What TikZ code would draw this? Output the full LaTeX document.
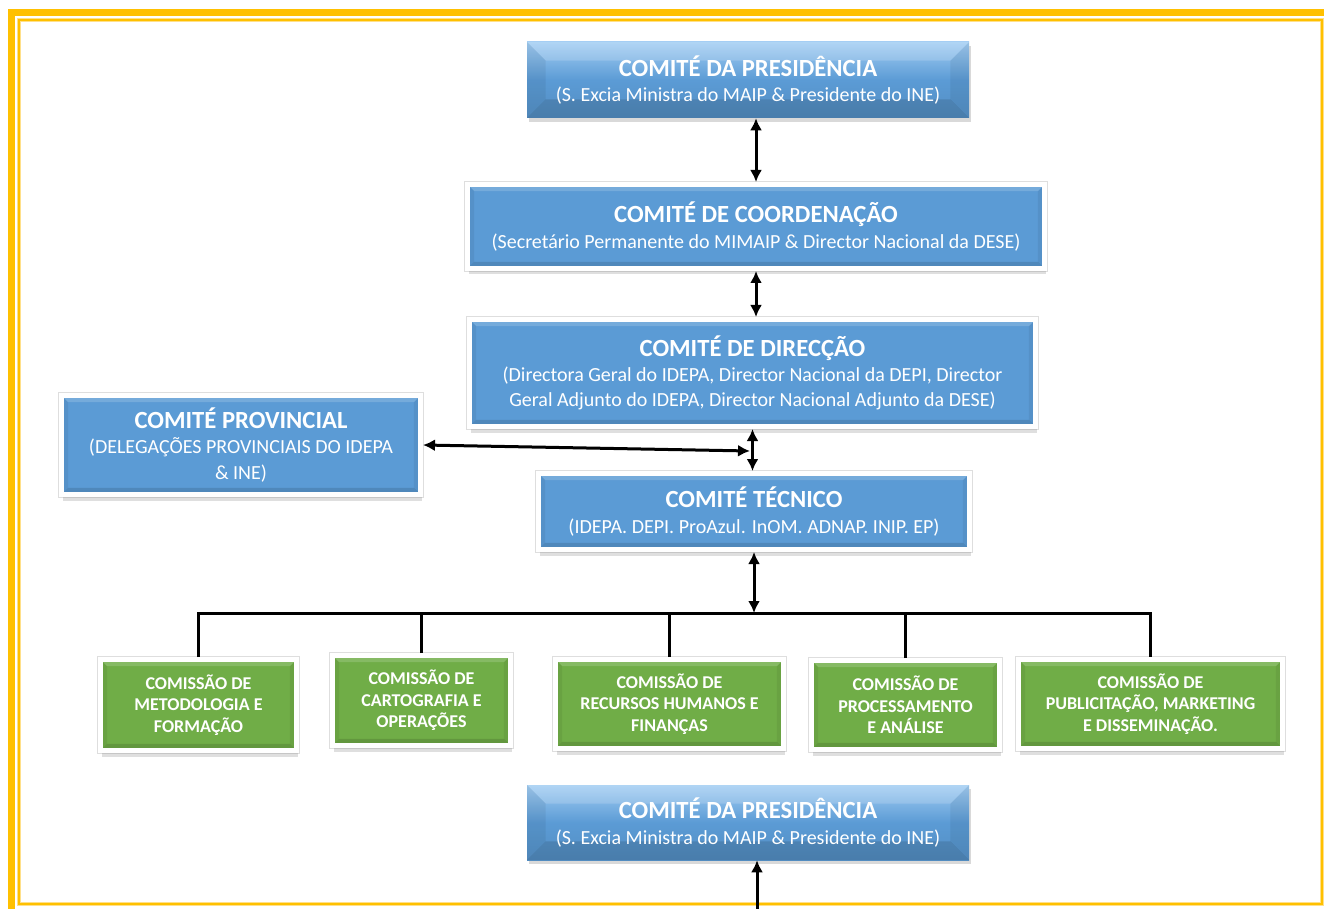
\documentclass[tikz,border=0pt]{standalone}
\usepackage{fontspec}
\setmainfont{Carlito}
\usetikzlibrary{shapes,arrows,arrows.meta,shadows}

\definecolor{frameyellow}{HTML}{FFC000}
\definecolor{frameglow}{HTML}{FFE08A}
\definecolor{boxblue}{HTML}{5B9BD5}
\definecolor{lightblue}{HTML}{A2CDF3}
\definecolor{boxgreen}{HTML}{70AD47}

\tikzset{
  bevel/.style={path picture={
    \fill[white,opacity=0.16] (path picture bounding box.north west) -- (path picture bounding box.north east)
      -- ([xshift=-#1,yshift=-#1]path picture bounding box.north east) -- ([xshift=#1,yshift=-#1]path picture bounding box.north west) -- cycle;
    \fill[black,opacity=0.12] (path picture bounding box.south west) -- (path picture bounding box.south east)
      -- ([xshift=-#1,yshift=#1]path picture bounding box.south east) -- ([xshift=#1,yshift=#1]path picture bounding box.south west) -- cycle;
    \fill[black,opacity=0.06] (path picture bounding box.north west) -- ([xshift=#1,yshift=-#1]path picture bounding box.north west)
      -- ([xshift=#1,yshift=#1]path picture bounding box.south west) -- (path picture bounding box.south west) -- cycle;
    \fill[black,opacity=0.06] (path picture bounding box.north east) -- ([xshift=-#1,yshift=-#1]path picture bounding box.north east)
      -- ([xshift=-#1,yshift=#1]path picture bounding box.south east) -- (path picture bounding box.south east) -- cycle;
  }},
  boxsize/.style 2 args={minimum width=#1*0.75pt, minimum height=#2*0.75pt},
  comite/.style={rectangle, fill=boxblue, draw=white, line width=3.75pt, text=white, align=center,
    inner sep=0pt, bevel=5pt, preaction={draw=black!13, line width=5.2pt},
    drop shadow={opacity=0.25, shadow xshift=1.2pt, shadow yshift=-4.5pt},
    font=\fontsize{15}{19}\selectfont},
  presid/.style={rectangle, top color=lightblue, bottom color=boxblue!92!black, middle color=boxblue,
    text=white, align=center, inner sep=0pt, bevel=14pt,
    drop shadow={opacity=0.3, shadow xshift=1.2pt, shadow yshift=-3pt},
    font=\fontsize{15}{19}\selectfont},
  comissao/.style={rectangle, fill=boxgreen, draw=white, line width=3.75pt, text=white, align=center,
    inner sep=0pt, bevel=5pt, preaction={draw=black!13, line width=5.2pt},
    drop shadow={opacity=0.25, shadow xshift=1.2pt, shadow yshift=-4.5pt},
    font=\fontsize{13.5}{16}\selectfont\bfseries},
  link/.style={line width=2.25pt, black},
  wire/.style={line width=2.25pt, black}
}
\newcommand{\comtitle}[1]{{\fontsize{18.5}{20}\selectfont\bfseries #1}}

\begin{document}
\begin{tikzpicture}[x=0.75pt, y=-0.75pt, >={Latex[length=9pt,width=9pt]}]
\useasboundingbox (0,0) rectangle (1324,909);

% moldura
\draw[frameyellow, line width=5.25pt] (11.5,909) -- (11.5,12.5) -- (1324,12.5);
\draw[frameglow, line width=3pt] (19,20) rectangle (1322,904);
\draw[frameyellow, line width=1.5pt] (19,20) rectangle (1322,904);

\node[presid, boxsize={442}{76}] (pres) at (748,80)
  {\comtitle{COMITÉ DA PRESIDÊNCIA}\\(S. Excia Ministra do MAIP \& Presidente do INE)};
\node[comite, boxsize={577}{84}] (coord) at (756,226.5)
  {\comtitle{COMITÉ DE COORDENAÇÃO}\\(Secretário Permanente do MIMAIP \& Director Nacional da DESE)};
\node[comite, boxsize={566}{107}] (direc) at (752.5,373)
  {\comtitle{COMITÉ DE DIRECÇÃO}\\(Directora Geral do IDEPA, Director Nacional da DEPI, Director\\Geral Adjunto do IDEPA, Director Nacional Adjunto da DESE)};
\node[comite, boxsize={359}{99}] (prov) at (241,445)
  {\comtitle{COMITÉ PROVINCIAL}\\(DELEGAÇÕES PROVINCIAIS DO IDEPA\\\& INE)};
\node[comite, boxsize={431}{76}] (tecn) at (754,511.5)
  {\comtitle{COMITÉ TÉCNICO}\\(IDEPA. DEPI. ProAzul. InOM. ADNAP. INIP. EP)};

\node[comissao, boxsize={196}{91}] (metod) at (198.5,705) {COMISSÃO DE\\METODOLOGIA E\\FORMAÇÃO};
\node[comissao, boxsize={178}{90}] (carto) at (421.5,700.5) {COMISSÃO DE\\CARTOGRAFIA E\\OPERAÇÕES};
\node[comissao, boxsize={228}{89}] (recur) at (669.5,704) {COMISSÃO DE\\RECURSOS HUMANOS E\\FINANÇAS};
\node[comissao, boxsize={188}{89}] (proc) at (905.5,705) {COMISSÃO DE\\PROCESSAMENTO\\E ANÁLISE};
\node[comissao, boxsize={264}{89}] (publ) at (1150.5,704) {COMISSÃO DE\\PUBLICITAÇÃO, MARKETING\\E DISSEMINAÇÃO.};

\node[presid, boxsize={442}{75}] (pres2) at (748,822.5)
  {\comtitle{COMITÉ DA PRESIDÊNCIA}\\(S. Excia Ministra do MAIP \& Presidente do INE)};

\coordinate (dt) at (750,451);
\coordinate (bus) at (754,613);
\coordinate (foot) at (757,909);

\draw[link, <->] (pres.south -| coord.north) -- (coord.north);
\draw[link, <->] (coord.south) -- (coord.south |- direc.north);
\draw[link, <->] (direc.south) -- (direc.south |- tecn.north);
\draw[link, <->] (prov.east) -- (dt);
\draw[link, <->] (tecn.south) -- (bus);

\draw[wire] (metod.north) |- (publ.north |- bus) -- (publ.north);
\foreach \n in {carto,recur,proc}
  \draw[wire] (\n.north) -- (\n.north |- bus);

\draw[link, ->] (foot) -- (foot |- pres2.south);
\end{tikzpicture}
\end{document}
